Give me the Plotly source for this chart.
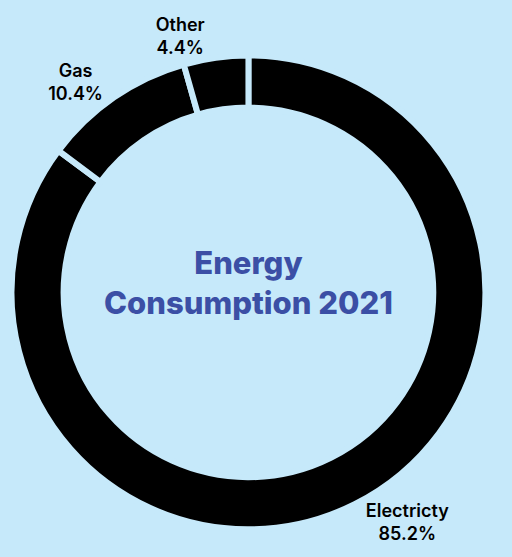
import plotly.graph_objects as go

labels = ["Electricty", "Gas", "Other"]
values = [85.2, 10.4, 4.4]
colors = ["#000000", "#000000", "#000000"]
center_title = "Energy<br>Consumption 2021"

BG = "#C6E9FA"

fig = go.Figure(go.Pie(
    labels=labels,
    values=values,
    hole=0.78,
    sort=False,
    direction="clockwise",
    rotation=0,
    marker=dict(colors=colors, line=dict(color=BG, width=6)),
    textinfo="label+percent",
    textposition="outside",
    texttemplate="%{label}<br>%{percent:.1%}",
    outsidetextfont=dict(family="Inter", size=18, color="#000000", weight=600),
    showlegend=False,
    domain=dict(x=[0.0225, 0.948], y=[0, 0.912]),
    hoverinfo="skip",
))

fig.add_annotation(
    text=center_title,
    x=0.485, y=0.4756, xref="paper", yref="paper",
    showarrow=False,
    font=dict(family="Inter", size=31, color="#3B4FA5", weight=800),
)

fig.update_layout(
    width=512, height=557,
    margin=dict(l=0, r=0, t=0, b=0),
    paper_bgcolor=BG, plot_bgcolor=BG,
)

fig.write_html(
    "out.html",
    config={"displayModeBar": False},
    post_script="document.body.style.margin='0';document.body.style.background='" + BG + "';",
)
